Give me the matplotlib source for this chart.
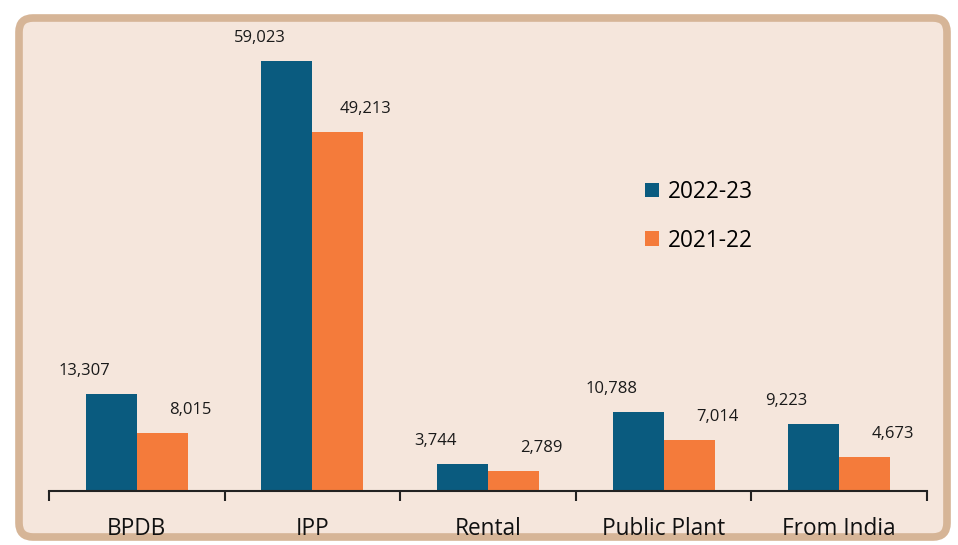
import matplotlib
matplotlib.use("Agg")
import matplotlib.pyplot as plt
from matplotlib.patches import FancyBboxPatch
from matplotlib.transforms import IdentityTransform
import numpy as np

categories = ["BPDB", "IPP", "Rental", "Public Plant", "From India"]
series_names = ["2022-23", "2021-22"]
values_2022_23 = [13307, 59023, 3744, 10788, 9223]
values_2021_22 = [8015, 49213, 2789, 7014, 4673]

BLUE = "#0A5B7F"
ORANGE = "#F47B3B"
FILL = "#F5E6DC"
EDGE = "#D6B597"

plt.rcParams['font.family'] = ['Open Sans', 'DejaVu Sans']

W, H = 958, 545
fig = plt.figure(figsize=(W / 100, H / 100), dpi=100)
fig.patch.set_facecolor("white")

box = FancyBboxPatch((19, 8), 947 - 19, 527 - 8,
                     boxstyle="round,pad=0,rounding_size=14",
                     transform=IdentityTransform(), facecolor=FILL,
                     edgecolor=EDGE, linewidth=5.5, zorder=-5)
fig.patches.append(box)

left = 49 / W
right = 927 / W
base = 491
top = 30
ax = fig.add_axes([left, (H - base) / H, right - left, (base - top) / H])
ax.set_facecolor("none")
ax.set_zorder(2)

x = np.arange(len(categories))
bw = 0.29
scale = 430 / 59023
ymax = (base - top) / scale

b1 = ax.bar(x - bw / 2, values_2022_23, bw, color=BLUE, label=series_names[0], zorder=2)
b2 = ax.bar(x + bw / 2, values_2021_22, bw, color=ORANGE, label=series_names[1], zorder=2)

px = 72 / 100  # points per pixel
for rect, v in zip(b1, values_2022_23):
    ax.annotate(f"{v:,}", (rect.get_x() + rect.get_width() / 2, rect.get_height()),
                xytext=(-27 * px, 23 * px), textcoords="offset points", ha="center", va="center",
                fontsize=12, color="#1a1a1a")
for rect, v in zip(b2, values_2021_22):
    ax.annotate(f"{v:,}", (rect.get_x() + rect.get_width() / 2, rect.get_height()),
                xytext=(28 * px, 23 * px), textcoords="offset points", ha="center", va="center",
                fontsize=12, color="#1a1a1a")

ax.set_xlim(-0.5, len(categories) - 0.5)
ax.set_ylim(0, ymax)

for s in ["top", "right", "left"]:
    ax.spines[s].set_visible(False)
ax.spines["bottom"].set_color("#222222")
ax.spines["bottom"].set_linewidth(1.5)
ax.set_yticks([])

ax.set_xticks(np.arange(-0.5, len(categories)), labels=[])
ax.tick_params(axis="x", which="major", length=7.5, width=1.5, color="#222222", direction="out")
ax.set_xticks(x, labels=categories, minor=True)
ax.tick_params(axis="x", which="minor", length=0, pad=18.5, labelsize=16.3, labelcolor="#111111")

leg = ax.legend(loc="upper left", bbox_to_anchor=(645 / W, 1 - 180 / H),
                bbox_transform=fig.transFigure, frameon=False, fontsize=16.3,
                handlelength=0.62, handleheight=0.62, handletextpad=0.38,
                labelspacing=1.09, borderaxespad=0, borderpad=0)

fig.savefig("out.png", dpi=100)
